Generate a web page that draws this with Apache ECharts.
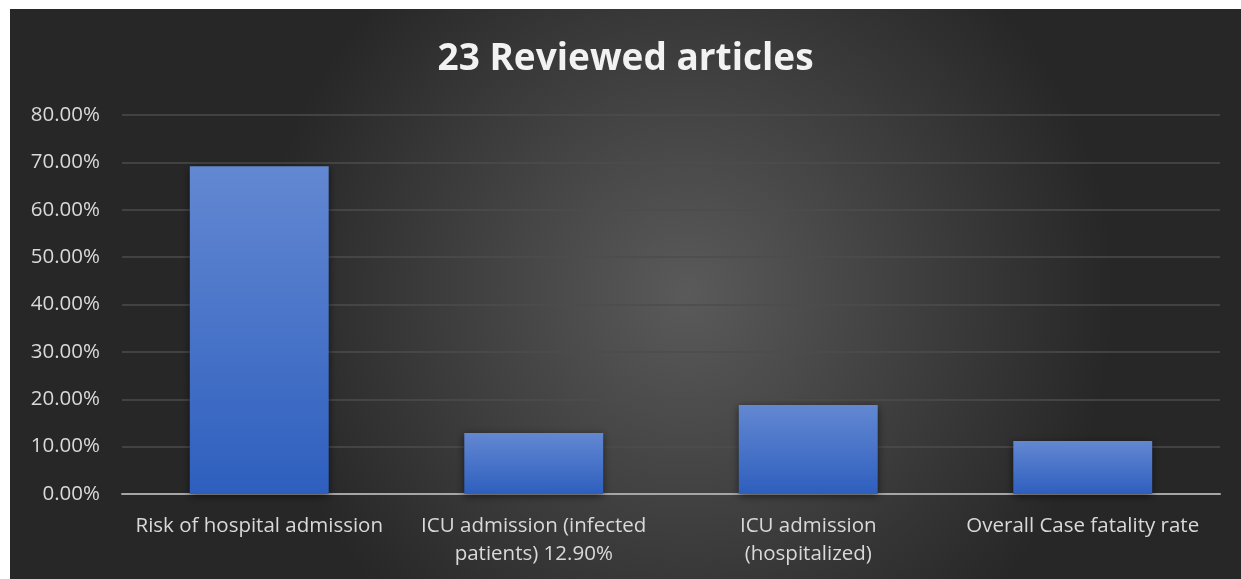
<!DOCTYPE html>
<html>
<head>
<meta charset="utf-8">
<script src="https://cdn.jsdelivr.net/npm/echarts@6/dist/echarts.min.js"></script>
<style>
  html, body { margin: 0; padding: 0; background: #fff; }
  #chart { position: absolute; left: 10px; top: 9px; width: 1231px; height: 570px; }
</style>
</head>
<body>
<div id="chart"></div>
<script>
const title = '23 Reviewed articles';
const categories = [
  'Risk of hospital admission',
  'ICU admission (infected\npatients) 12.90%',
  'ICU admission\n(hospitalized)',
  'Overall Case fatality rate',
];
const values = [0.692, 0.129, 0.188, 0.112];
const yTicks = [0, 0.1, 0.2, 0.3, 0.4, 0.5, 0.6, 0.7, 0.8];

const font = '"Open Sans", "Liberation Sans", sans-serif';
const chart = echarts.init(document.getElementById('chart'), null, { renderer: 'canvas' });

chart.setOption({
  backgroundColor: new echarts.graphic.RadialGradient(0.55, 0.5, 0.75, [
    { offset: 0, color: '#5a5a5a' },
    { offset: 1, color: '#272727' },
  ]),
  title: {
    text: title,
    left: 'center',
    top: 27,
    textStyle: { color: '#f2f2f2', fontSize: 37, fontWeight: 'bold', fontFamily: font },
  },
  grid: { left: 112, right: 21, top: 106, bottom: 85 },
  xAxis: {
    type: 'category',
    data: categories,
    axisTick: { show: false },
    axisLine: { lineStyle: { color: '#a6a6a6', width: 2 } },
    axisLabel: { color: '#d9d9d9', fontSize: 20.5, fontFamily: font, margin: 18, lineHeight: 28, interval: 0 },
  },
  yAxis: {
    type: 'value',
    min: 0,
    max: yTicks[yTicks.length - 1],
    interval: 0.1,
    axisLine: { show: false },
    axisTick: { show: false },
    splitLine: { lineStyle: { color: '#4d4d4d', width: 1.5 } },
    axisLabel: {
      color: '#d9d9d9', fontSize: 20.5, fontFamily: font, margin: 22,
      formatter: v => (v * 100).toFixed(2) + '%',
    },
  },
  series: [{
    type: 'bar',
    data: values,
    barWidth: '50.6%',
    itemStyle: {
      color: new echarts.graphic.LinearGradient(0, 0, 0, 1, [
        { offset: 0, color: '#6388d2' },
        { offset: 1, color: '#2e5fbe' },
      ]),
      shadowBlur: 8,
      shadowColor: 'rgba(0,0,0,0.55)',
      shadowOffsetY: 2,
    },
    z: 1,
  }],
  animation: false,
});
</script>
</body>
</html>
